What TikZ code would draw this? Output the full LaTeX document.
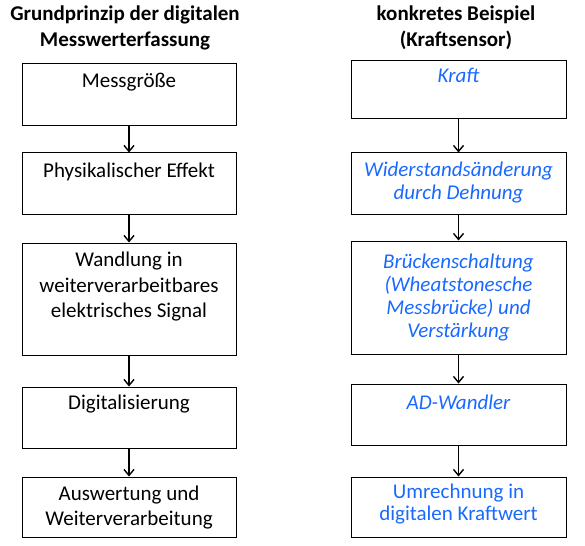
\documentclass[tikz,border=0pt]{standalone}
\usepackage{fontspec}
\setmainfont{Carlito}
\usetikzlibrary{arrows.meta}
\definecolor{handblue}{RGB}{25,105,255}
\begin{document}
\begin{tikzpicture}[x=1pt,y=-1pt,
  stagebox/.style={draw=black,line width=1pt,inner sep=0pt},
  flowarrow/.style={line width=1.6pt,-{Straight Barb[length=6pt,width=10pt,line width=1.4pt]}},
  lefttext/.style={align=center,inner sep=0pt,font=\fontsize{21}{25.5}\selectfont},
  righttext/.style={align=center,inner sep=0pt,text=handblue,font=\fontsize{21}{23}\selectfont\itshape},
  resulttext/.style={align=center,inner sep=0pt,text=handblue,font=\fontsize{21}{22}\selectfont},
  headtext/.style={align=center,inner sep=0pt,font=\fontsize{21}{26}\selectfont\bfseries}]
\useasboundingbox (0,0) rectangle (585,545);

% column headings
\node[headtext] (hl) at (125,27.5) {Grundprinzip der digitalen\\Messwerterfassung};
\node[headtext] (hr) at (456,27.5) {konkretes Beispiel\\(Kraftsensor)};

% left column: general principle
\node[stagebox,minimum width=214pt,minimum height=62pt] (l1) at (129,95) {};
\node[stagebox,minimum width=214pt,minimum height=61pt] (l2) at (129,183.5) {};
\node[stagebox,minimum width=214pt,minimum height=112pt] (l3) at (129,299) {};
\node[stagebox,minimum width=214pt,minimum height=61pt] (l4) at (129,417.5) {};
\node[stagebox,minimum width=214pt,minimum height=60pt] (l5) at (129,507) {};

\node[lefttext] (t1) at (129,82) {Messgröße};
\node[lefttext] (t2) at (129,172) {Physikalischer Effekt};
\node[lefttext] (t3) at (129,287) {Wandlung in\\weiterverarbeitbares\\elektrisches Signal};
\node[lefttext] (t4) at (129,404) {Digitalisierung};
\node[lefttext] (t5) at (129,507.5) {Auswertung und\\Weiterverarbeitung};

% right column: force sensor example
\node[stagebox,minimum width=215pt,minimum height=58pt] (r1) at (458.5,90) {};
\node[stagebox,minimum width=215pt,minimum height=61pt] (r2) at (458.5,183.5) {};
\node[stagebox,minimum width=215pt,minimum height=113pt] (r3) at (458.5,297.5) {};
\node[stagebox,minimum width=215pt,minimum height=61pt] (r4) at (458.5,414.5) {};
\node[stagebox,minimum width=215pt,minimum height=60pt] (r5) at (458.5,507) {};

\node[righttext] (s1) at (458.5,75) {Kraft};
\node[righttext] (s2) at (458.5,182.5) {Widerstandsänderung\\durch Dehnung};
\node[righttext] (s3) at (458.5,297.5) {Brückenschaltung\\(Wheatstonesche\\Messbrücke) und\\Verstärkung};
\node[righttext] (s4) at (458.5,402) {AD-Wandler};
\node[resulttext] (s5) at (458.5,504.5) {Umrechnung in\\digitalen Kraftwert};

% connectors
\foreach \a/\b in {l1/l2,l2/l3,l3/l4,l4/l5,r1/r2,r2/r3,r3/r4,r4/r5}
  \draw[flowarrow] (\a.south) -- (\b.north);
\end{tikzpicture}
\end{document}
